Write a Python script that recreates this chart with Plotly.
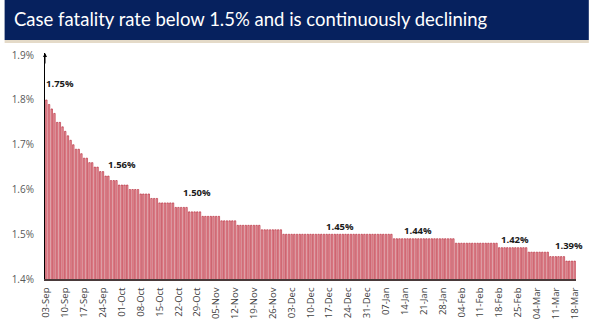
import pandas as pd
import plotly.graph_objects as go

# ---- data ----
dates = pd.date_range("2020-09-03", "2021-03-18", freq="D")
categories = [d.strftime("%d-%b") for d in dates]

cfr = [
    1.75, 1.74, 1.73, 1.72, 1.70, 1.70, 1.69, 1.68, 1.67, 1.66,
    1.65, 1.64, 1.64, 1.63, 1.62, 1.62, 1.61, 1.61, 1.60, 1.60,
    1.59, 1.59, 1.58, 1.58, 1.57, 1.57, 1.57, 1.56, 1.56, 1.56,
    1.56, 1.55, 1.55, 1.55, 1.55, 1.54, 1.54, 1.54, 1.54, 1.53,
    1.53, 1.53, 1.52, 1.52, 1.52, 1.52, 1.52, 1.52, 1.51, 1.51,
    1.51, 1.51, 1.51, 1.50, 1.50, 1.50, 1.50, 1.50, 1.49, 1.49,
    1.49, 1.49, 1.49, 1.49, 1.49, 1.48, 1.48, 1.48, 1.48, 1.48,
    1.48, 1.47, 1.47, 1.47, 1.47, 1.47, 1.47, 1.47, 1.47, 1.47,
    1.46, 1.46, 1.46, 1.46, 1.46, 1.46, 1.46, 1.46, 1.45, 1.45,
    1.45, 1.45, 1.45, 1.45, 1.45, 1.45, 1.45, 1.45, 1.45, 1.45,
    1.45, 1.45, 1.45, 1.45, 1.45, 1.45, 1.45, 1.45, 1.45, 1.45,
    1.45, 1.45, 1.45, 1.45, 1.45, 1.45, 1.45, 1.45, 1.45, 1.45,
    1.45, 1.45, 1.45, 1.45, 1.45, 1.45, 1.45, 1.45, 1.45, 1.44,
    1.44, 1.44, 1.44, 1.44, 1.44, 1.44, 1.44, 1.44, 1.44, 1.44,
    1.44, 1.44, 1.44, 1.44, 1.44, 1.44, 1.44, 1.44, 1.44, 1.44,
    1.44, 1.44, 1.43, 1.43, 1.43, 1.43, 1.43, 1.43, 1.43, 1.43,
    1.43, 1.43, 1.43, 1.43, 1.43, 1.43, 1.43, 1.43, 1.42, 1.42,
    1.42, 1.42, 1.42, 1.42, 1.42, 1.42, 1.42, 1.42, 1.42, 1.41,
    1.41, 1.41, 1.41, 1.41, 1.41, 1.41, 1.41, 1.40, 1.40, 1.40,
    1.40, 1.40, 1.40, 1.39, 1.39, 1.39, 1.39,
]

tick_labels = categories[::7]
ytick_vals = [1.35, 1.45, 1.55, 1.65, 1.75, 1.85]
ytick_text = ["1.4%", "1.5%", "1.6%", "1.7%", "1.8%", "1.9%"]

# labelled values: (category index, value, pixel lift above that value)
label_idx = [5, 28, 56, 109, 138, 174, 194]
label_val = [1.75, 1.56, 1.50, 1.45, 1.44, 1.42, 1.39]
label_lift = [16, 21, 19, 8, 8, 8, 16]

title = "Case fatality rate below 1.5% and is continuously declining"

# ---- layout geometry ----
W, H = 593, 333
L, R, T, B = 41, 13, 53, 54
PW, PH = W - L - R, H - T - B

def px_to_paper_x(px):
    return (px - L) / PW

def py_to_paper_y(py):
    return (H - B - py) / PH

fig = go.Figure()
fig.add_trace(go.Bar(
    x=categories, y=cfr,
    marker=dict(color="#eda0a8", line=dict(color="#b01c2e", width=0.6)),
    hoverinfo="x+y",
))

annotations = []
for i, v, lift in zip(label_idx, label_val, label_lift):
    annotations.append(dict(
        x=categories[i], y=v, xref="x", yref="y", text="<b>%.2f%%</b>" % v,
        showarrow=False, yanchor="middle", xanchor="center", yshift=lift,
        font=dict(family="Open Sans, sans-serif", size=9.5, color="#1a1a1a"),
    ))

# title text in banner
annotations.append(dict(
    x=px_to_paper_x(7), y=py_to_paper_y(19), xref="paper", yref="paper",
    text=title, showarrow=False, xanchor="left", yanchor="middle",
    font=dict(family="Lato, sans-serif", size=18.5, color="white"),
))

# y axis arrow
annotations.append(dict(
    x=0, y=1.855, xref="paper", yref="y", ax=0, ay=12, axref="pixel", ayref="pixel",
    text="", showarrow=True, arrowhead=2, arrowsize=0.8, arrowwidth=1, arrowcolor="#000000",
))

shapes = [
    dict(type="rect", xref="paper", yref="paper",
         x0=px_to_paper_x(0), x1=px_to_paper_x(W), y0=py_to_paper_y(40), y1=py_to_paper_y(0),
         fillcolor="#06215e", line=dict(width=0), layer="below"),
    dict(type="rect", xref="paper", yref="paper",
         x0=px_to_paper_x(0), x1=px_to_paper_x(W), y0=py_to_paper_y(43), y1=py_to_paper_y(40),
         fillcolor="#e4dac8", line=dict(width=0), layer="below"),
]

fig.update_layout(
    width=W, height=H,
    margin=dict(l=L, r=R, t=T, b=B, pad=0),
    paper_bgcolor="white", plot_bgcolor="white",
    bargap=0.45,
    showlegend=False,
    annotations=annotations,
    shapes=shapes,
    font=dict(family="Open Sans, sans-serif", size=10, color="#595959"),
)
fig.update_xaxes(
    type="category", tickmode="array", tickvals=tick_labels, ticktext=tick_labels,
    tickangle=-90, showgrid=False, showline=True, linecolor="#4a3a3a", linewidth=1.5,
    ticks="", tickfont=dict(size=9.5, color="#404040"), range=[-0.5, len(categories) - 0.5],
    ticklabelstandoff=3,
)
fig.update_yaxes(
    range=[1.35, 1.855], tickmode="array", tickvals=ytick_vals, ticktext=ytick_text,
    showgrid=False, showline=True, linecolor="#000000", linewidth=1, ticks="",
    tickfont=dict(size=10, color="#595959"), zeroline=False, ticklabelstandoff=8,
)

fig.write_html("out.html")
